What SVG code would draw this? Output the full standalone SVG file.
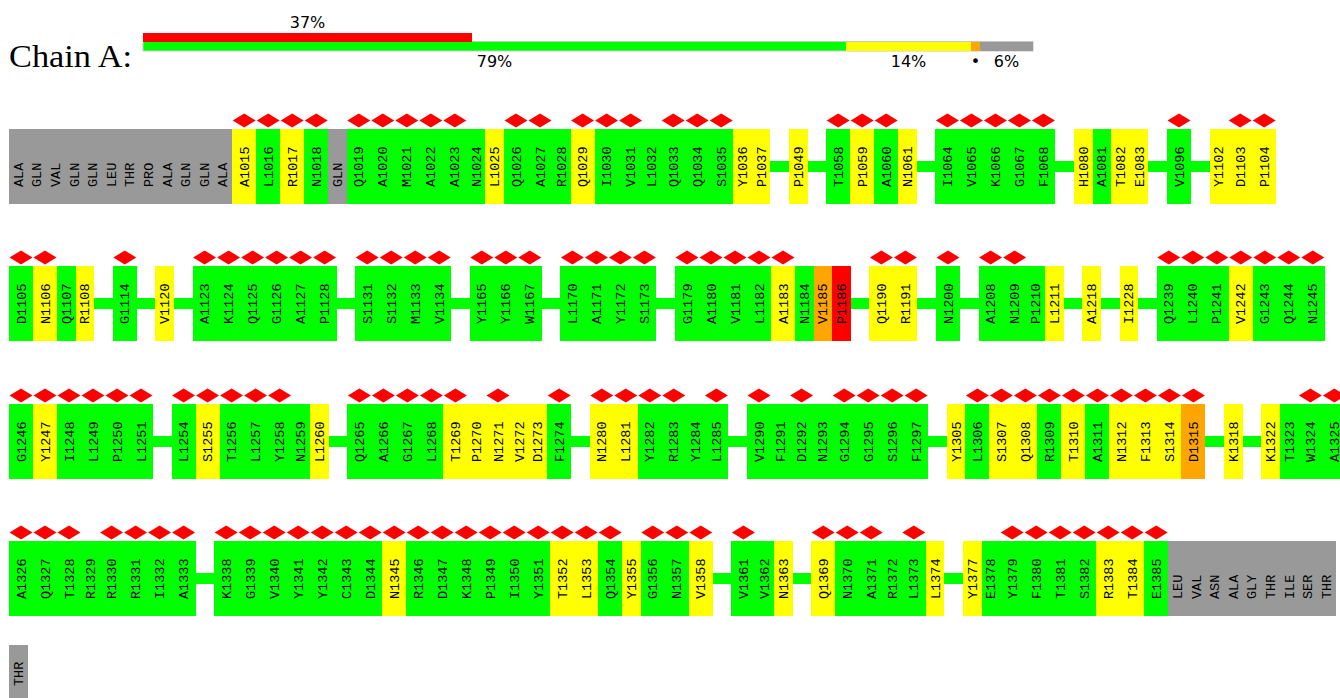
<svg xmlns="http://www.w3.org/2000/svg" xmlns:xlink="http://www.w3.org/1999/xlink" width="1340" height="698" viewBox="0 0 1340 698">
<defs>
<style>
rect{shape-rendering:crispEdges}
.g{fill:#00ff00}.y{fill:#ffff00}.o{fill:#ffa500}.r{fill:#ff0000}.x{fill:#999999}
.nodes text{font-family:"Liberation Mono","DejaVu Sans Mono",monospace;font-size:13.5px;fill:#000}
.pct{font-family:"DejaVu Sans",sans-serif;font-size:16px;fill:#000;text-anchor:middle}
.dm{fill:#ff0000}
.conn rect{fill:#00ff00}
</style>
<polygon id="dm" class="dm" points="-11.5,0 0,-7 11.5,0 0,7"/>
</defs>
<rect width="1340" height="698" fill="#fff"/>
<g id="header">
<text x="9" y="67" font-family="Liberation Serif, serif" font-size="32" textLength="123" lengthAdjust="spacingAndGlyphs">Chain A:</text>
<rect x="143" y="41.5" width="890" height="9.5" fill="#00ff00" stroke="#c8c8c8" stroke-width="1" style="shape-rendering:auto"/>
<rect x="143" y="32.5" width="329.3" height="9" fill="#ff0000"/>
<rect x="846" y="42" width="125" height="9" fill="#ffff00"/>
<rect x="971" y="42" width="9" height="9" fill="#ffa500"/>
<rect x="980" y="42" width="53" height="9" fill="#999999"/>
<text class="pct" x="307.5" y="28">37%</text>
<text class="pct" x="494.5" y="67">79%</text>
<text class="pct" x="908.5" y="67">14%</text>
<text class="pct" x="975.5" y="67" font-size="11">•</text>
<text class="pct" x="1006.5" y="67">6%</text>
</g>
<g id="connectors" class="conn">
<rect x="769.4" y="161" width="20.6" height="11"/><rect x="806.6" y="161" width="20.6" height="11"/><rect x="915.8" y="161" width="20.6" height="11"/><rect x="1054.4" y="161" width="20.6" height="11"/><rect x="1147.4" y="161" width="20.6" height="11"/><rect x="1190" y="161" width="20.6" height="11"/>
<rect x="93.2" y="298" width="20.6" height="11"/><rect x="135.8" y="298" width="20.6" height="11"/><rect x="173" y="298" width="20.6" height="11"/><rect x="335.6" y="298" width="20.6" height="11"/><rect x="450.2" y="298" width="20.6" height="11"/><rect x="540.8" y="298" width="20.6" height="11"/><rect x="655.4" y="298" width="20.6" height="11"/><rect x="849.8" y="298" width="20.6" height="11"/><rect x="916.4" y="298" width="20.6" height="11"/><rect x="959" y="298" width="20.6" height="11"/><rect x="1062.8" y="298" width="20.6" height="11"/><rect x="1100" y="298" width="20.6" height="11"/><rect x="1137.2" y="298" width="20.6" height="11"/>
<rect x="152" y="436" width="20.6" height="11"/><rect x="327.8" y="436" width="20.6" height="11"/><rect x="570.2" y="436" width="20.6" height="11"/><rect x="727.4" y="436" width="20.6" height="11"/><rect x="927.2" y="436" width="20.6" height="11"/><rect x="1204.4" y="436" width="20.6" height="11"/><rect x="1241.6" y="436" width="20.6" height="11"/>
<rect x="194.6" y="573" width="20.6" height="11"/><rect x="711.8" y="573" width="20.6" height="11"/><rect x="791.6" y="573" width="20.6" height="11"/><rect x="943.4" y="573" width="20.6" height="11"/>
</g>
<g class="nodes">
<g id="row1" transform="translate(0,129)">
<g id="r1-ALA-a"><rect class="x" x="9" width="18.6" height="75"/><text transform="translate(22.8,58) rotate(-90)">ALA</text></g>
<g id="r1-GLN-a"><rect class="x" x="27.6" width="18.6" height="75"/><text transform="translate(41.4,58) rotate(-90)">GLN</text></g>
<g id="r1-VAL"><rect class="x" x="46.2" width="18.6" height="75"/><text transform="translate(60,58) rotate(-90)">VAL</text></g>
<g id="r1-GLN-b"><rect class="x" x="64.8" width="18.6" height="75"/><text transform="translate(78.6,58) rotate(-90)">GLN</text></g>
<g id="r1-GLN-c"><rect class="x" x="83.4" width="18.6" height="75"/><text transform="translate(97.2,58) rotate(-90)">GLN</text></g>
<g id="r1-LEU"><rect class="x" x="102" width="18.6" height="75"/><text transform="translate(115.8,58) rotate(-90)">LEU</text></g>
<g id="r1-THR"><rect class="x" x="120.6" width="18.6" height="75"/><text transform="translate(134.4,58) rotate(-90)">THR</text></g>
<g id="r1-PRO"><rect class="x" x="139.2" width="18.6" height="75"/><text transform="translate(153,58) rotate(-90)">PRO</text></g>
<g id="r1-ALA-b"><rect class="x" x="157.8" width="18.6" height="75"/><text transform="translate(171.6,58) rotate(-90)">ALA</text></g>
<g id="r1-GLN-d"><rect class="x" x="176.4" width="18.6" height="75"/><text transform="translate(190.2,58) rotate(-90)">GLN</text></g>
<g id="r1-GLN-e"><rect class="x" x="195" width="18.6" height="75"/><text transform="translate(208.8,58) rotate(-90)">GLN</text></g>
<g id="r1-ALA-c"><rect class="x" x="213.6" width="18.6" height="75"/><text transform="translate(227.4,58) rotate(-90)">ALA</text></g>
<g id="A1015"><rect class="y" x="232.2" width="24" height="75"/><use href="#dm" x="244.2" y="-8.5"/><text transform="translate(248.7,58) rotate(-90)">A1015</text></g>
<g id="L1016"><rect class="g" x="256.2" width="24" height="75"/><use href="#dm" x="268.2" y="-8.5"/><text transform="translate(272.7,58) rotate(-90)">L1016</text></g>
<g id="R1017"><rect class="y" x="280.2" width="24" height="75"/><use href="#dm" x="292.2" y="-8.5"/><text transform="translate(296.7,58) rotate(-90)">R1017</text></g>
<g id="N1018"><rect class="g" x="304.2" width="24" height="75"/><use href="#dm" x="316.2" y="-8.5"/><text transform="translate(320.7,58) rotate(-90)">N1018</text></g>
<g id="r1-GLN-f"><rect class="x" x="328.2" width="18.6" height="75"/><text transform="translate(342,58) rotate(-90)">GLN</text></g>
<g id="Q1019"><rect class="g" x="346.8" width="24" height="75"/><use href="#dm" x="358.8" y="-8.5"/><text transform="translate(363.3,58) rotate(-90)">Q1019</text></g>
<g id="A1020"><rect class="g" x="370.8" width="24" height="75"/><use href="#dm" x="382.8" y="-8.5"/><text transform="translate(387.3,58) rotate(-90)">A1020</text></g>
<g id="M1021"><rect class="g" x="394.8" width="24" height="75"/><use href="#dm" x="406.8" y="-8.5"/><text transform="translate(411.3,58) rotate(-90)">M1021</text></g>
<g id="A1022"><rect class="g" x="418.8" width="24" height="75"/><use href="#dm" x="430.8" y="-8.5"/><text transform="translate(435.3,58) rotate(-90)">A1022</text></g>
<g id="A1023"><rect class="g" x="442.8" width="24" height="75"/><use href="#dm" x="454.8" y="-8.5"/><text transform="translate(459.3,58) rotate(-90)">A1023</text></g>
<g id="N1024"><rect class="g" x="466.8" width="18.6" height="75"/><text transform="translate(480.6,58) rotate(-90)">N1024</text></g>
<g id="L1025"><rect class="y" x="485.4" width="18.6" height="75"/><text transform="translate(499.2,58) rotate(-90)">L1025</text></g>
<g id="Q1026"><rect class="g" x="504" width="24" height="75"/><use href="#dm" x="516" y="-8.5"/><text transform="translate(520.5,58) rotate(-90)">Q1026</text></g>
<g id="A1027"><rect class="g" x="528" width="24" height="75"/><use href="#dm" x="540" y="-8.5"/><text transform="translate(544.5,58) rotate(-90)">A1027</text></g>
<g id="R1028"><rect class="g" x="552" width="18.6" height="75"/><text transform="translate(565.8,58) rotate(-90)">R1028</text></g>
<g id="Q1029"><rect class="y" x="570.6" width="24" height="75"/><use href="#dm" x="582.6" y="-8.5"/><text transform="translate(587.1,58) rotate(-90)">Q1029</text></g>
<g id="I1030"><rect class="g" x="594.6" width="24" height="75"/><use href="#dm" x="606.6" y="-8.5"/><text transform="translate(611.1,58) rotate(-90)">I1030</text></g>
<g id="V1031"><rect class="g" x="618.6" width="24" height="75"/><use href="#dm" x="630.6" y="-8.5"/><text transform="translate(635.1,58) rotate(-90)">V1031</text></g>
<g id="L1032"><rect class="g" x="642.6" width="18.6" height="75"/><text transform="translate(656.4,58) rotate(-90)">L1032</text></g>
<g id="Q1033"><rect class="g" x="661.2" width="24" height="75"/><use href="#dm" x="673.2" y="-8.5"/><text transform="translate(677.7,58) rotate(-90)">Q1033</text></g>
<g id="Q1034"><rect class="g" x="685.2" width="24" height="75"/><use href="#dm" x="697.2" y="-8.5"/><text transform="translate(701.7,58) rotate(-90)">Q1034</text></g>
<g id="S1035"><rect class="g" x="709.2" width="24" height="75"/><use href="#dm" x="721.2" y="-8.5"/><text transform="translate(725.7,58) rotate(-90)">S1035</text></g>
<g id="Y1036"><rect class="y" x="733.2" width="18.6" height="75"/><text transform="translate(747,58) rotate(-90)">Y1036</text></g>
<g id="P1037"><rect class="y" x="751.8" width="18.6" height="75"/><text transform="translate(765.6,58) rotate(-90)">P1037</text></g>
<g id="P1049"><rect class="y" x="789" width="18.6" height="75"/><text transform="translate(802.8,58) rotate(-90)">P1049</text></g>
<g id="T1058"><rect class="g" x="826.2" width="24" height="75"/><use href="#dm" x="838.2" y="-8.5"/><text transform="translate(842.7,58) rotate(-90)">T1058</text></g>
<g id="P1059"><rect class="y" x="850.2" width="24" height="75"/><use href="#dm" x="862.2" y="-8.5"/><text transform="translate(866.7,58) rotate(-90)">P1059</text></g>
<g id="A1060"><rect class="g" x="874.2" width="24" height="75"/><use href="#dm" x="886.2" y="-8.5"/><text transform="translate(890.7,58) rotate(-90)">A1060</text></g>
<g id="N1061"><rect class="y" x="898.2" width="18.6" height="75"/><text transform="translate(912,58) rotate(-90)">N1061</text></g>
<g id="I1064"><rect class="g" x="935.4" width="24" height="75"/><use href="#dm" x="947.4" y="-8.5"/><text transform="translate(951.9,58) rotate(-90)">I1064</text></g>
<g id="V1065"><rect class="g" x="959.4" width="24" height="75"/><use href="#dm" x="971.4" y="-8.5"/><text transform="translate(975.9,58) rotate(-90)">V1065</text></g>
<g id="K1066"><rect class="g" x="983.4" width="24" height="75"/><use href="#dm" x="995.4" y="-8.5"/><text transform="translate(999.9,58) rotate(-90)">K1066</text></g>
<g id="G1067"><rect class="g" x="1007.4" width="24" height="75"/><use href="#dm" x="1019.4" y="-8.5"/><text transform="translate(1023.9,58) rotate(-90)">G1067</text></g>
<g id="F1068"><rect class="g" x="1031.4" width="24" height="75"/><use href="#dm" x="1043.4" y="-8.5"/><text transform="translate(1047.9,58) rotate(-90)">F1068</text></g>
<g id="H1080"><rect class="y" x="1074" width="18.6" height="75"/><text transform="translate(1087.8,58) rotate(-90)">H1080</text></g>
<g id="A1081"><rect class="g" x="1092.6" width="18.6" height="75"/><text transform="translate(1106.4,58) rotate(-90)">A1081</text></g>
<g id="T1082"><rect class="y" x="1111.2" width="18.6" height="75"/><text transform="translate(1125,58) rotate(-90)">T1082</text></g>
<g id="E1083"><rect class="y" x="1129.8" width="18.6" height="75"/><text transform="translate(1143.6,58) rotate(-90)">E1083</text></g>
<g id="V1096"><rect class="g" x="1167" width="24" height="75"/><use href="#dm" x="1179" y="-8.5"/><text transform="translate(1183.5,58) rotate(-90)">V1096</text></g>
<g id="Y1102"><rect class="y" x="1209.6" width="18.6" height="75"/><text transform="translate(1223.4,58) rotate(-90)">Y1102</text></g>
<g id="D1103"><rect class="y" x="1228.2" width="24" height="75"/><use href="#dm" x="1240.2" y="-8.5"/><text transform="translate(1244.7,58) rotate(-90)">D1103</text></g>
<g id="P1104"><rect class="y" x="1252.2" width="24" height="75"/><use href="#dm" x="1264.2" y="-8.5"/><text transform="translate(1268.7,58) rotate(-90)">P1104</text></g>
</g>
<g id="row2" transform="translate(0,266)">
<g id="D1105"><rect class="g" x="9" width="24" height="75"/><use href="#dm" x="21" y="-8.5"/><text transform="translate(25.5,58) rotate(-90)">D1105</text></g>
<g id="N1106"><rect class="y" x="33" width="24" height="75"/><use href="#dm" x="45" y="-8.5"/><text transform="translate(49.5,58) rotate(-90)">N1106</text></g>
<g id="Q1107"><rect class="g" x="57" width="18.6" height="75"/><text transform="translate(70.8,58) rotate(-90)">Q1107</text></g>
<g id="R1108"><rect class="y" x="75.6" width="18.6" height="75"/><text transform="translate(89.4,58) rotate(-90)">R1108</text></g>
<g id="G1114"><rect class="g" x="112.8" width="24" height="75"/><use href="#dm" x="124.8" y="-8.5"/><text transform="translate(129.3,58) rotate(-90)">G1114</text></g>
<g id="V1120"><rect class="y" x="155.4" width="18.6" height="75"/><text transform="translate(169.2,58) rotate(-90)">V1120</text></g>
<g id="A1123"><rect class="g" x="192.6" width="24" height="75"/><use href="#dm" x="204.6" y="-8.5"/><text transform="translate(209.1,58) rotate(-90)">A1123</text></g>
<g id="K1124"><rect class="g" x="216.6" width="24" height="75"/><use href="#dm" x="228.6" y="-8.5"/><text transform="translate(233.1,58) rotate(-90)">K1124</text></g>
<g id="Q1125"><rect class="g" x="240.6" width="24" height="75"/><use href="#dm" x="252.6" y="-8.5"/><text transform="translate(257.1,58) rotate(-90)">Q1125</text></g>
<g id="G1126"><rect class="g" x="264.6" width="24" height="75"/><use href="#dm" x="276.6" y="-8.5"/><text transform="translate(281.1,58) rotate(-90)">G1126</text></g>
<g id="A1127"><rect class="g" x="288.6" width="24" height="75"/><use href="#dm" x="300.6" y="-8.5"/><text transform="translate(305.1,58) rotate(-90)">A1127</text></g>
<g id="P1128"><rect class="g" x="312.6" width="24" height="75"/><use href="#dm" x="324.6" y="-8.5"/><text transform="translate(329.1,58) rotate(-90)">P1128</text></g>
<g id="S1131"><rect class="g" x="355.2" width="24" height="75"/><use href="#dm" x="367.2" y="-8.5"/><text transform="translate(371.7,58) rotate(-90)">S1131</text></g>
<g id="S1132"><rect class="g" x="379.2" width="24" height="75"/><use href="#dm" x="391.2" y="-8.5"/><text transform="translate(395.7,58) rotate(-90)">S1132</text></g>
<g id="M1133"><rect class="g" x="403.2" width="24" height="75"/><use href="#dm" x="415.2" y="-8.5"/><text transform="translate(419.7,58) rotate(-90)">M1133</text></g>
<g id="V1134"><rect class="g" x="427.2" width="24" height="75"/><use href="#dm" x="439.2" y="-8.5"/><text transform="translate(443.7,58) rotate(-90)">V1134</text></g>
<g id="Y1165"><rect class="g" x="469.8" width="24" height="75"/><use href="#dm" x="481.8" y="-8.5"/><text transform="translate(486.3,58) rotate(-90)">Y1165</text></g>
<g id="Y1166"><rect class="g" x="493.8" width="24" height="75"/><use href="#dm" x="505.8" y="-8.5"/><text transform="translate(510.3,58) rotate(-90)">Y1166</text></g>
<g id="W1167"><rect class="g" x="517.8" width="24" height="75"/><use href="#dm" x="529.8" y="-8.5"/><text transform="translate(534.3,58) rotate(-90)">W1167</text></g>
<g id="L1170"><rect class="g" x="560.4" width="24" height="75"/><use href="#dm" x="572.4" y="-8.5"/><text transform="translate(576.9,58) rotate(-90)">L1170</text></g>
<g id="A1171"><rect class="g" x="584.4" width="24" height="75"/><use href="#dm" x="596.4" y="-8.5"/><text transform="translate(600.9,58) rotate(-90)">A1171</text></g>
<g id="Y1172"><rect class="g" x="608.4" width="24" height="75"/><use href="#dm" x="620.4" y="-8.5"/><text transform="translate(624.9,58) rotate(-90)">Y1172</text></g>
<g id="S1173"><rect class="g" x="632.4" width="24" height="75"/><use href="#dm" x="644.4" y="-8.5"/><text transform="translate(648.9,58) rotate(-90)">S1173</text></g>
<g id="G1179"><rect class="g" x="675" width="24" height="75"/><use href="#dm" x="687" y="-8.5"/><text transform="translate(691.5,58) rotate(-90)">G1179</text></g>
<g id="A1180"><rect class="g" x="699" width="24" height="75"/><use href="#dm" x="711" y="-8.5"/><text transform="translate(715.5,58) rotate(-90)">A1180</text></g>
<g id="V1181"><rect class="g" x="723" width="24" height="75"/><use href="#dm" x="735" y="-8.5"/><text transform="translate(739.5,58) rotate(-90)">V1181</text></g>
<g id="L1182"><rect class="g" x="747" width="24" height="75"/><use href="#dm" x="759" y="-8.5"/><text transform="translate(763.5,58) rotate(-90)">L1182</text></g>
<g id="A1183"><rect class="y" x="771" width="24" height="75"/><use href="#dm" x="783" y="-8.5"/><text transform="translate(787.5,58) rotate(-90)">A1183</text></g>
<g id="N1184"><rect class="g" x="795" width="18.6" height="75"/><text transform="translate(808.8,58) rotate(-90)">N1184</text></g>
<g id="V1185"><rect class="o" x="813.6" width="18.6" height="75"/><text transform="translate(827.4,58) rotate(-90)">V1185</text></g>
<g id="P1186"><rect class="r" x="832.2" width="18.6" height="75"/><text transform="translate(846,58) rotate(-90)">P1186</text></g>
<g id="Q1190"><rect class="y" x="869.4" width="24" height="75"/><use href="#dm" x="881.4" y="-8.5"/><text transform="translate(885.9,58) rotate(-90)">Q1190</text></g>
<g id="R1191"><rect class="y" x="893.4" width="24" height="75"/><use href="#dm" x="905.4" y="-8.5"/><text transform="translate(909.9,58) rotate(-90)">R1191</text></g>
<g id="N1200"><rect class="g" x="936" width="24" height="75"/><use href="#dm" x="948" y="-8.5"/><text transform="translate(952.5,58) rotate(-90)">N1200</text></g>
<g id="A1208"><rect class="g" x="978.6" width="24" height="75"/><use href="#dm" x="990.6" y="-8.5"/><text transform="translate(995.1,58) rotate(-90)">A1208</text></g>
<g id="N1209"><rect class="g" x="1002.6" width="24" height="75"/><use href="#dm" x="1014.6" y="-8.5"/><text transform="translate(1019.1,58) rotate(-90)">N1209</text></g>
<g id="P1210"><rect class="g" x="1026.6" width="18.6" height="75"/><text transform="translate(1040.4,58) rotate(-90)">P1210</text></g>
<g id="L1211"><rect class="y" x="1045.2" width="18.6" height="75"/><text transform="translate(1059,58) rotate(-90)">L1211</text></g>
<g id="A1218"><rect class="y" x="1082.4" width="18.6" height="75"/><text transform="translate(1096.2,58) rotate(-90)">A1218</text></g>
<g id="I1228"><rect class="y" x="1119.6" width="18.6" height="75"/><text transform="translate(1133.4,58) rotate(-90)">I1228</text></g>
<g id="Q1239"><rect class="g" x="1156.8" width="24" height="75"/><use href="#dm" x="1168.8" y="-8.5"/><text transform="translate(1173.3,58) rotate(-90)">Q1239</text></g>
<g id="L1240"><rect class="g" x="1180.8" width="24" height="75"/><use href="#dm" x="1192.8" y="-8.5"/><text transform="translate(1197.3,58) rotate(-90)">L1240</text></g>
<g id="P1241"><rect class="g" x="1204.8" width="24" height="75"/><use href="#dm" x="1216.8" y="-8.5"/><text transform="translate(1221.3,58) rotate(-90)">P1241</text></g>
<g id="V1242"><rect class="y" x="1228.8" width="24" height="75"/><use href="#dm" x="1240.8" y="-8.5"/><text transform="translate(1245.3,58) rotate(-90)">V1242</text></g>
<g id="G1243"><rect class="g" x="1252.8" width="24" height="75"/><use href="#dm" x="1264.8" y="-8.5"/><text transform="translate(1269.3,58) rotate(-90)">G1243</text></g>
<g id="Q1244"><rect class="g" x="1276.8" width="24" height="75"/><use href="#dm" x="1288.8" y="-8.5"/><text transform="translate(1293.3,58) rotate(-90)">Q1244</text></g>
<g id="N1245"><rect class="g" x="1300.8" width="24" height="75"/><use href="#dm" x="1312.8" y="-8.5"/><text transform="translate(1317.3,58) rotate(-90)">N1245</text></g>
</g>
<g id="row3" transform="translate(0,404)">
<g id="G1246"><rect class="g" x="9" width="24" height="75"/><use href="#dm" x="21" y="-8.5"/><text transform="translate(25.5,58) rotate(-90)">G1246</text></g>
<g id="Y1247"><rect class="y" x="33" width="24" height="75"/><use href="#dm" x="45" y="-8.5"/><text transform="translate(49.5,58) rotate(-90)">Y1247</text></g>
<g id="I1248"><rect class="g" x="57" width="24" height="75"/><use href="#dm" x="69" y="-8.5"/><text transform="translate(73.5,58) rotate(-90)">I1248</text></g>
<g id="L1249"><rect class="g" x="81" width="24" height="75"/><use href="#dm" x="93" y="-8.5"/><text transform="translate(97.5,58) rotate(-90)">L1249</text></g>
<g id="P1250"><rect class="g" x="105" width="24" height="75"/><use href="#dm" x="117" y="-8.5"/><text transform="translate(121.5,58) rotate(-90)">P1250</text></g>
<g id="L1251"><rect class="g" x="129" width="24" height="75"/><use href="#dm" x="141" y="-8.5"/><text transform="translate(145.5,58) rotate(-90)">L1251</text></g>
<g id="L1254"><rect class="g" x="171.6" width="24" height="75"/><use href="#dm" x="183.6" y="-8.5"/><text transform="translate(188.1,58) rotate(-90)">L1254</text></g>
<g id="S1255"><rect class="y" x="195.6" width="24" height="75"/><use href="#dm" x="207.6" y="-8.5"/><text transform="translate(212.1,58) rotate(-90)">S1255</text></g>
<g id="T1256"><rect class="g" x="219.6" width="24" height="75"/><use href="#dm" x="231.6" y="-8.5"/><text transform="translate(236.1,58) rotate(-90)">T1256</text></g>
<g id="L1257"><rect class="g" x="243.6" width="24" height="75"/><use href="#dm" x="255.6" y="-8.5"/><text transform="translate(260.1,58) rotate(-90)">L1257</text></g>
<g id="Y1258"><rect class="g" x="267.6" width="24" height="75"/><use href="#dm" x="279.6" y="-8.5"/><text transform="translate(284.1,58) rotate(-90)">Y1258</text></g>
<g id="N1259"><rect class="g" x="291.6" width="18.6" height="75"/><text transform="translate(305.4,58) rotate(-90)">N1259</text></g>
<g id="L1260"><rect class="y" x="310.2" width="18.6" height="75"/><text transform="translate(324,58) rotate(-90)">L1260</text></g>
<g id="Q1265"><rect class="g" x="347.4" width="24" height="75"/><use href="#dm" x="359.4" y="-8.5"/><text transform="translate(363.9,58) rotate(-90)">Q1265</text></g>
<g id="A1266"><rect class="g" x="371.4" width="24" height="75"/><use href="#dm" x="383.4" y="-8.5"/><text transform="translate(387.9,58) rotate(-90)">A1266</text></g>
<g id="G1267"><rect class="g" x="395.4" width="24" height="75"/><use href="#dm" x="407.4" y="-8.5"/><text transform="translate(411.9,58) rotate(-90)">G1267</text></g>
<g id="L1268"><rect class="g" x="419.4" width="24" height="75"/><use href="#dm" x="431.4" y="-8.5"/><text transform="translate(435.9,58) rotate(-90)">L1268</text></g>
<g id="T1269"><rect class="y" x="443.4" width="24" height="75"/><use href="#dm" x="455.4" y="-8.5"/><text transform="translate(459.9,58) rotate(-90)">T1269</text></g>
<g id="P1270"><rect class="y" x="467.4" width="18.6" height="75"/><text transform="translate(481.2,58) rotate(-90)">P1270</text></g>
<g id="N1271"><rect class="y" x="486" width="24" height="75"/><use href="#dm" x="498" y="-8.5"/><text transform="translate(502.5,58) rotate(-90)">N1271</text></g>
<g id="V1272"><rect class="y" x="510" width="18.6" height="75"/><text transform="translate(523.8,58) rotate(-90)">V1272</text></g>
<g id="D1273"><rect class="y" x="528.6" width="18.6" height="75"/><text transform="translate(542.4,58) rotate(-90)">D1273</text></g>
<g id="F1274"><rect class="g" x="547.2" width="24" height="75"/><use href="#dm" x="559.2" y="-8.5"/><text transform="translate(563.7,58) rotate(-90)">F1274</text></g>
<g id="N1280"><rect class="y" x="589.8" width="24" height="75"/><use href="#dm" x="601.8" y="-8.5"/><text transform="translate(606.3,58) rotate(-90)">N1280</text></g>
<g id="L1281"><rect class="y" x="613.8" width="24" height="75"/><use href="#dm" x="625.8" y="-8.5"/><text transform="translate(630.3,58) rotate(-90)">L1281</text></g>
<g id="Y1282"><rect class="g" x="637.8" width="24" height="75"/><use href="#dm" x="649.8" y="-8.5"/><text transform="translate(654.3,58) rotate(-90)">Y1282</text></g>
<g id="R1283"><rect class="g" x="661.8" width="24" height="75"/><use href="#dm" x="673.8" y="-8.5"/><text transform="translate(678.3,58) rotate(-90)">R1283</text></g>
<g id="Y1284"><rect class="g" x="685.8" width="18.6" height="75"/><text transform="translate(699.6,58) rotate(-90)">Y1284</text></g>
<g id="L1285"><rect class="g" x="704.4" width="24" height="75"/><use href="#dm" x="716.4" y="-8.5"/><text transform="translate(720.9,58) rotate(-90)">L1285</text></g>
<g id="V1290"><rect class="g" x="747" width="24" height="75"/><use href="#dm" x="759" y="-8.5"/><text transform="translate(763.5,58) rotate(-90)">V1290</text></g>
<g id="F1291"><rect class="g" x="771" width="18.6" height="75"/><text transform="translate(784.8,58) rotate(-90)">F1291</text></g>
<g id="D1292"><rect class="g" x="789.6" width="24" height="75"/><use href="#dm" x="801.6" y="-8.5"/><text transform="translate(806.1,58) rotate(-90)">D1292</text></g>
<g id="N1293"><rect class="g" x="813.6" width="18.6" height="75"/><text transform="translate(827.4,58) rotate(-90)">N1293</text></g>
<g id="G1294"><rect class="g" x="832.2" width="24" height="75"/><use href="#dm" x="844.2" y="-8.5"/><text transform="translate(848.7,58) rotate(-90)">G1294</text></g>
<g id="G1295"><rect class="g" x="856.2" width="24" height="75"/><use href="#dm" x="868.2" y="-8.5"/><text transform="translate(872.7,58) rotate(-90)">G1295</text></g>
<g id="S1296"><rect class="g" x="880.2" width="24" height="75"/><use href="#dm" x="892.2" y="-8.5"/><text transform="translate(896.7,58) rotate(-90)">S1296</text></g>
<g id="F1297"><rect class="g" x="904.2" width="24" height="75"/><use href="#dm" x="916.2" y="-8.5"/><text transform="translate(920.7,58) rotate(-90)">F1297</text></g>
<g id="Y1305"><rect class="y" x="946.8" width="18.6" height="75"/><text transform="translate(960.6,58) rotate(-90)">Y1305</text></g>
<g id="L1306"><rect class="g" x="965.4" width="24" height="75"/><use href="#dm" x="977.4" y="-8.5"/><text transform="translate(981.9,58) rotate(-90)">L1306</text></g>
<g id="S1307"><rect class="y" x="989.4" width="24" height="75"/><use href="#dm" x="1001.4" y="-8.5"/><text transform="translate(1005.9,58) rotate(-90)">S1307</text></g>
<g id="Q1308"><rect class="y" x="1013.4" width="24" height="75"/><use href="#dm" x="1025.4" y="-8.5"/><text transform="translate(1029.9,58) rotate(-90)">Q1308</text></g>
<g id="R1309"><rect class="g" x="1037.4" width="24" height="75"/><use href="#dm" x="1049.4" y="-8.5"/><text transform="translate(1053.9,58) rotate(-90)">R1309</text></g>
<g id="T1310"><rect class="y" x="1061.4" width="24" height="75"/><use href="#dm" x="1073.4" y="-8.5"/><text transform="translate(1077.9,58) rotate(-90)">T1310</text></g>
<g id="A1311"><rect class="g" x="1085.4" width="24" height="75"/><use href="#dm" x="1097.4" y="-8.5"/><text transform="translate(1101.9,58) rotate(-90)">A1311</text></g>
<g id="N1312"><rect class="y" x="1109.4" width="24" height="75"/><use href="#dm" x="1121.4" y="-8.5"/><text transform="translate(1125.9,58) rotate(-90)">N1312</text></g>
<g id="F1313"><rect class="y" x="1133.4" width="24" height="75"/><use href="#dm" x="1145.4" y="-8.5"/><text transform="translate(1149.9,58) rotate(-90)">F1313</text></g>
<g id="S1314"><rect class="y" x="1157.4" width="24" height="75"/><use href="#dm" x="1169.4" y="-8.5"/><text transform="translate(1173.9,58) rotate(-90)">S1314</text></g>
<g id="D1315"><rect class="o" x="1181.4" width="24" height="75"/><use href="#dm" x="1193.4" y="-8.5"/><text transform="translate(1197.9,58) rotate(-90)">D1315</text></g>
<g id="K1318"><rect class="y" x="1224" width="18.6" height="75"/><text transform="translate(1237.8,58) rotate(-90)">K1318</text></g>
<g id="K1322"><rect class="y" x="1261.2" width="18.6" height="75"/><text transform="translate(1275,58) rotate(-90)">K1322</text></g>
<g id="T1323"><rect class="g" x="1279.8" width="18.6" height="75"/><text transform="translate(1293.6,58) rotate(-90)">T1323</text></g>
<g id="W1324"><rect class="g" x="1298.4" width="24" height="75"/><use href="#dm" x="1310.4" y="-8.5"/><text transform="translate(1314.9,58) rotate(-90)">W1324</text></g>
<g id="A1325"><rect class="g" x="1322.4" width="24" height="75"/><use href="#dm" x="1334.4" y="-8.5"/><text transform="translate(1338.9,58) rotate(-90)">A1325</text></g>
</g>
<g id="row4" transform="translate(0,541)">
<g id="A1326"><rect class="g" x="9" width="24" height="75"/><use href="#dm" x="21" y="-8.5"/><text transform="translate(25.5,58) rotate(-90)">A1326</text></g>
<g id="Q1327"><rect class="g" x="33" width="24" height="75"/><use href="#dm" x="45" y="-8.5"/><text transform="translate(49.5,58) rotate(-90)">Q1327</text></g>
<g id="T1328"><rect class="g" x="57" width="24" height="75"/><use href="#dm" x="69" y="-8.5"/><text transform="translate(73.5,58) rotate(-90)">T1328</text></g>
<g id="R1329"><rect class="g" x="81" width="18.6" height="75"/><text transform="translate(94.8,58) rotate(-90)">R1329</text></g>
<g id="R1330"><rect class="g" x="99.6" width="24" height="75"/><use href="#dm" x="111.6" y="-8.5"/><text transform="translate(116.1,58) rotate(-90)">R1330</text></g>
<g id="R1331"><rect class="g" x="123.6" width="24" height="75"/><use href="#dm" x="135.6" y="-8.5"/><text transform="translate(140.1,58) rotate(-90)">R1331</text></g>
<g id="I1332"><rect class="g" x="147.6" width="24" height="75"/><use href="#dm" x="159.6" y="-8.5"/><text transform="translate(164.1,58) rotate(-90)">I1332</text></g>
<g id="A1333"><rect class="g" x="171.6" width="24" height="75"/><use href="#dm" x="183.6" y="-8.5"/><text transform="translate(188.1,58) rotate(-90)">A1333</text></g>
<g id="K1338"><rect class="g" x="214.2" width="24" height="75"/><use href="#dm" x="226.2" y="-8.5"/><text transform="translate(230.7,58) rotate(-90)">K1338</text></g>
<g id="G1339"><rect class="g" x="238.2" width="24" height="75"/><use href="#dm" x="250.2" y="-8.5"/><text transform="translate(254.7,58) rotate(-90)">G1339</text></g>
<g id="V1340"><rect class="g" x="262.2" width="24" height="75"/><use href="#dm" x="274.2" y="-8.5"/><text transform="translate(278.7,58) rotate(-90)">V1340</text></g>
<g id="Y1341"><rect class="g" x="286.2" width="24" height="75"/><use href="#dm" x="298.2" y="-8.5"/><text transform="translate(302.7,58) rotate(-90)">Y1341</text></g>
<g id="Y1342"><rect class="g" x="310.2" width="24" height="75"/><use href="#dm" x="322.2" y="-8.5"/><text transform="translate(326.7,58) rotate(-90)">Y1342</text></g>
<g id="C1343"><rect class="g" x="334.2" width="24" height="75"/><use href="#dm" x="346.2" y="-8.5"/><text transform="translate(350.7,58) rotate(-90)">C1343</text></g>
<g id="D1344"><rect class="g" x="358.2" width="24" height="75"/><use href="#dm" x="370.2" y="-8.5"/><text transform="translate(374.7,58) rotate(-90)">D1344</text></g>
<g id="N1345"><rect class="y" x="382.2" width="24" height="75"/><use href="#dm" x="394.2" y="-8.5"/><text transform="translate(398.7,58) rotate(-90)">N1345</text></g>
<g id="R1346"><rect class="g" x="406.2" width="24" height="75"/><use href="#dm" x="418.2" y="-8.5"/><text transform="translate(422.7,58) rotate(-90)">R1346</text></g>
<g id="D1347"><rect class="g" x="430.2" width="24" height="75"/><use href="#dm" x="442.2" y="-8.5"/><text transform="translate(446.7,58) rotate(-90)">D1347</text></g>
<g id="K1348"><rect class="g" x="454.2" width="24" height="75"/><use href="#dm" x="466.2" y="-8.5"/><text transform="translate(470.7,58) rotate(-90)">K1348</text></g>
<g id="P1349"><rect class="g" x="478.2" width="24" height="75"/><use href="#dm" x="490.2" y="-8.5"/><text transform="translate(494.7,58) rotate(-90)">P1349</text></g>
<g id="I1350"><rect class="g" x="502.2" width="24" height="75"/><use href="#dm" x="514.2" y="-8.5"/><text transform="translate(518.7,58) rotate(-90)">I1350</text></g>
<g id="Y1351"><rect class="g" x="526.2" width="24" height="75"/><use href="#dm" x="538.2" y="-8.5"/><text transform="translate(542.7,58) rotate(-90)">Y1351</text></g>
<g id="T1352"><rect class="y" x="550.2" width="24" height="75"/><use href="#dm" x="562.2" y="-8.5"/><text transform="translate(566.7,58) rotate(-90)">T1352</text></g>
<g id="L1353"><rect class="y" x="574.2" width="24" height="75"/><use href="#dm" x="586.2" y="-8.5"/><text transform="translate(590.7,58) rotate(-90)">L1353</text></g>
<g id="Q1354"><rect class="g" x="598.2" width="24" height="75"/><use href="#dm" x="610.2" y="-8.5"/><text transform="translate(614.7,58) rotate(-90)">Q1354</text></g>
<g id="Y1355"><rect class="y" x="622.2" width="18.6" height="75"/><text transform="translate(636,58) rotate(-90)">Y1355</text></g>
<g id="G1356"><rect class="g" x="640.8" width="24" height="75"/><use href="#dm" x="652.8" y="-8.5"/><text transform="translate(657.3,58) rotate(-90)">G1356</text></g>
<g id="N1357"><rect class="g" x="664.8" width="24" height="75"/><use href="#dm" x="676.8" y="-8.5"/><text transform="translate(681.3,58) rotate(-90)">N1357</text></g>
<g id="V1358"><rect class="y" x="688.8" width="24" height="75"/><use href="#dm" x="700.8" y="-8.5"/><text transform="translate(705.3,58) rotate(-90)">V1358</text></g>
<g id="V1361"><rect class="g" x="731.4" width="24" height="75"/><use href="#dm" x="743.4" y="-8.5"/><text transform="translate(747.9,58) rotate(-90)">V1361</text></g>
<g id="V1362"><rect class="g" x="755.4" width="18.6" height="75"/><text transform="translate(769.2,58) rotate(-90)">V1362</text></g>
<g id="N1363"><rect class="y" x="774" width="18.6" height="75"/><text transform="translate(787.8,58) rotate(-90)">N1363</text></g>
<g id="Q1369"><rect class="y" x="811.2" width="24" height="75"/><use href="#dm" x="823.2" y="-8.5"/><text transform="translate(827.7,58) rotate(-90)">Q1369</text></g>
<g id="N1370"><rect class="g" x="835.2" width="24" height="75"/><use href="#dm" x="847.2" y="-8.5"/><text transform="translate(851.7,58) rotate(-90)">N1370</text></g>
<g id="A1371"><rect class="g" x="859.2" width="24" height="75"/><use href="#dm" x="871.2" y="-8.5"/><text transform="translate(875.7,58) rotate(-90)">A1371</text></g>
<g id="R1372"><rect class="g" x="883.2" width="18.6" height="75"/><text transform="translate(897,58) rotate(-90)">R1372</text></g>
<g id="L1373"><rect class="g" x="901.8" width="24" height="75"/><use href="#dm" x="913.8" y="-8.5"/><text transform="translate(918.3,58) rotate(-90)">L1373</text></g>
<g id="L1374"><rect class="y" x="925.8" width="18.6" height="75"/><text transform="translate(939.6,58) rotate(-90)">L1374</text></g>
<g id="Y1377"><rect class="y" x="963" width="18.6" height="75"/><text transform="translate(976.8,58) rotate(-90)">Y1377</text></g>
<g id="E1378"><rect class="g" x="981.6" width="18.6" height="75"/><text transform="translate(995.4,58) rotate(-90)">E1378</text></g>
<g id="Y1379"><rect class="g" x="1000.2" width="24" height="75"/><use href="#dm" x="1012.2" y="-8.5"/><text transform="translate(1016.7,58) rotate(-90)">Y1379</text></g>
<g id="F1380"><rect class="g" x="1024.2" width="24" height="75"/><use href="#dm" x="1036.2" y="-8.5"/><text transform="translate(1040.7,58) rotate(-90)">F1380</text></g>
<g id="T1381"><rect class="g" x="1048.2" width="24" height="75"/><use href="#dm" x="1060.2" y="-8.5"/><text transform="translate(1064.7,58) rotate(-90)">T1381</text></g>
<g id="S1382"><rect class="g" x="1072.2" width="24" height="75"/><use href="#dm" x="1084.2" y="-8.5"/><text transform="translate(1088.7,58) rotate(-90)">S1382</text></g>
<g id="R1383"><rect class="y" x="1096.2" width="24" height="75"/><use href="#dm" x="1108.2" y="-8.5"/><text transform="translate(1112.7,58) rotate(-90)">R1383</text></g>
<g id="T1384"><rect class="y" x="1120.2" width="24" height="75"/><use href="#dm" x="1132.2" y="-8.5"/><text transform="translate(1136.7,58) rotate(-90)">T1384</text></g>
<g id="E1385"><rect class="g" x="1144.2" width="24" height="75"/><use href="#dm" x="1156.2" y="-8.5"/><text transform="translate(1160.7,58) rotate(-90)">E1385</text></g>
<g id="r4-LEU"><rect class="x" x="1168.2" width="18.6" height="75"/><text transform="translate(1182,58) rotate(-90)">LEU</text></g>
<g id="r4-VAL"><rect class="x" x="1186.8" width="18.6" height="75"/><text transform="translate(1200.6,58) rotate(-90)">VAL</text></g>
<g id="r4-ASN"><rect class="x" x="1205.4" width="18.6" height="75"/><text transform="translate(1219.2,58) rotate(-90)">ASN</text></g>
<g id="r4-ALA"><rect class="x" x="1224" width="18.6" height="75"/><text transform="translate(1237.8,58) rotate(-90)">ALA</text></g>
<g id="r4-GLY"><rect class="x" x="1242.6" width="18.6" height="75"/><text transform="translate(1256.4,58) rotate(-90)">GLY</text></g>
<g id="r4-THR-a"><rect class="x" x="1261.2" width="18.6" height="75"/><text transform="translate(1275,58) rotate(-90)">THR</text></g>
<g id="r4-ILE"><rect class="x" x="1279.8" width="18.6" height="75"/><text transform="translate(1293.6,58) rotate(-90)">ILE</text></g>
<g id="r4-SER"><rect class="x" x="1298.4" width="18.6" height="75"/><text transform="translate(1312.2,58) rotate(-90)">SER</text></g>
<g id="r4-THR-b"><rect class="x" x="1317" width="18.6" height="75"/><text transform="translate(1330.8,58) rotate(-90)">THR</text></g>
</g>
<g id="row5" transform="translate(0,645)">
<g id="r5-THR"><rect class="x" x="9" width="18.6" height="60"/><text transform="translate(22.8,41) rotate(-90)">THR</text></g>
</g>
</g>
</svg>
